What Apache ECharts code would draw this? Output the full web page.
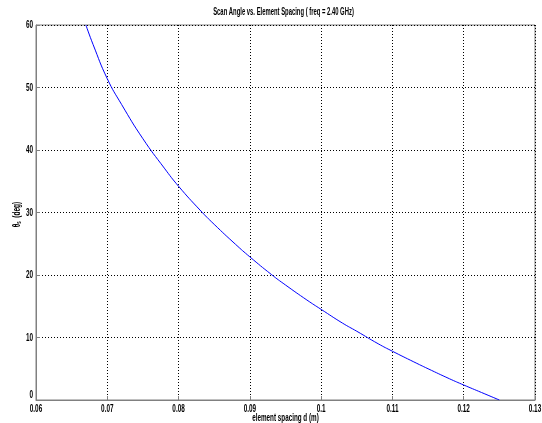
<!DOCTYPE html>
<html>
<head>
<meta charset="utf-8">
<script src="https://cdn.jsdelivr.net/npm/echarts@6/dist/echarts.min.js"></script>
<style>html,body{margin:0;padding:0;background:#fff}#c{width:542px;height:423px}</style>
</head>
<body>
<div id="c"></div>
<script>
var titleText = 'Scan Angle vs. Element Spacing ( freq = 2.40 GHz)';
var xName = 'element spacing d (m)';
var spacing = [0.067, 0.068, 0.07, 0.072, 0.075, 0.078, 0.08, 0.083, 0.085, 0.088, 0.09, 0.093, 0.095, 0.098, 0.1, 0.103, 0.105, 0.108, 0.11, 0.113, 0.115, 0.118, 0.12, 0.1225, 0.125];
var scanAngle = [60, 56.9, 51.4, 47.3, 41.8, 37.1, 34.2, 30.4, 28.1, 24.9, 22.9, 20.1, 18.4, 16.0, 14.5, 12.3, 11.0, 9.0, 7.8, 6.1, 5.0, 3.4, 2.4, 1.2, 0];
var xTicks = [0.06, 0.07, 0.08, 0.09, 0.1, 0.11, 0.12, 0.13];
var xTickLabels = ['0.06', '0.07', '0.08', '0.09', '0.1', '0.11', '0.12', '0.13'];
var yTicks = [0, 10, 20, 30, 40, 50, 60];

var FONT = '"Liberation Sans", Arial, sans-serif';
var chart = echarts.init(document.getElementById('c'), null, {renderer: 'canvas'});
var data = spacing.map(function (d, i) { return [d, scanAngle[i]]; });
var gridLine = {show: true, lineStyle: {color: '#000', type: [1, 2], width: 1}};
chart.setOption({
  animation: false,
  backgroundColor: '#fff',
  grid: {left: 36, right: 7, top: 25, bottom: 23, show: true, borderColor: '#808080', borderWidth: 1},
  xAxis: {
    type: 'value', min: 0.06, max: 0.13, interval: 0.01,
    axisLine: {show: true, lineStyle: {color: '#808080'}},
    axisTick: {show: true, inside: true, length: 4, lineStyle: {color: '#808080'}},
    axisLabel: {show: false},
    splitLine: gridLine
  },
  yAxis: {
    type: 'value', min: 0, max: 60, interval: 10,
    axisLine: {show: true, lineStyle: {color: '#808080'}},
    axisTick: {show: true, inside: true, length: 4, lineStyle: {color: '#808080'}},
    axisLabel: {show: false},
    splitLine: gridLine
  },
  series: [{
    type: 'line', data: data, smooth: true, showSymbol: false,
    lineStyle: {color: '#0000ff', width: 1}, clip: true
  }]
});

function txt(text, x, y, align, vAlign, size, sx) {
  return {
    type: 'text', x: x, y: y, scaleX: sx, silent: true,
    style: {text: text, fill: '#000', font: 'bold ' + size + 'px ' + FONT,
      align: align, verticalAlign: vAlign}
  };
}
var els = [];
var p0 = chart.convertToPixel({gridIndex: 0}, [0.06, 0]);
var p1 = chart.convertToPixel({gridIndex: 0}, [0.13, 60]);
xTicks.forEach(function (v, i) {
  var p = chart.convertToPixel({gridIndex: 0}, [v, 0]);
  els.push(txt(xTickLabels[i], p[0], p[1] + 3, 'center', 'top', 11, 0.58));
});
yTicks.forEach(function (v) {
  var p = chart.convertToPixel({gridIndex: 0}, [0.06, v]);
  els.push(txt(String(v), p[0] - 3, p[1], 'right', v === 0 ? 'bottom' : 'middle', 11, 0.58));
});
var cx = (p0[0] + p1[0]) / 2;
els.push(txt(titleText, cx - 2, p1[1] - 7, 'center', 'bottom', 10.5, 0.56));
els.push(txt(xName, cx, p0[1] + 13, 'center', 'top', 10.5, 0.6));
els.push({
  type: 'text', x: 17, y: (p0[1] + p1[1]) / 2 + 2, rotation: Math.PI / 2, scaleX: 0.62, silent: true,
  style: {text: '{t|θ}{s|s}{t|  (deg)}', align: 'center', verticalAlign: 'middle',
    rich: {
      t: {font: 'bold 10.5px ' + FONT, fill: '#000'},
      s: {font: 'bold 7px ' + FONT, fill: '#000', padding: [5, 0, 0, 0]}
    }}
});
chart.setOption({graphic: {elements: els}});
</script>
</body>
</html>
